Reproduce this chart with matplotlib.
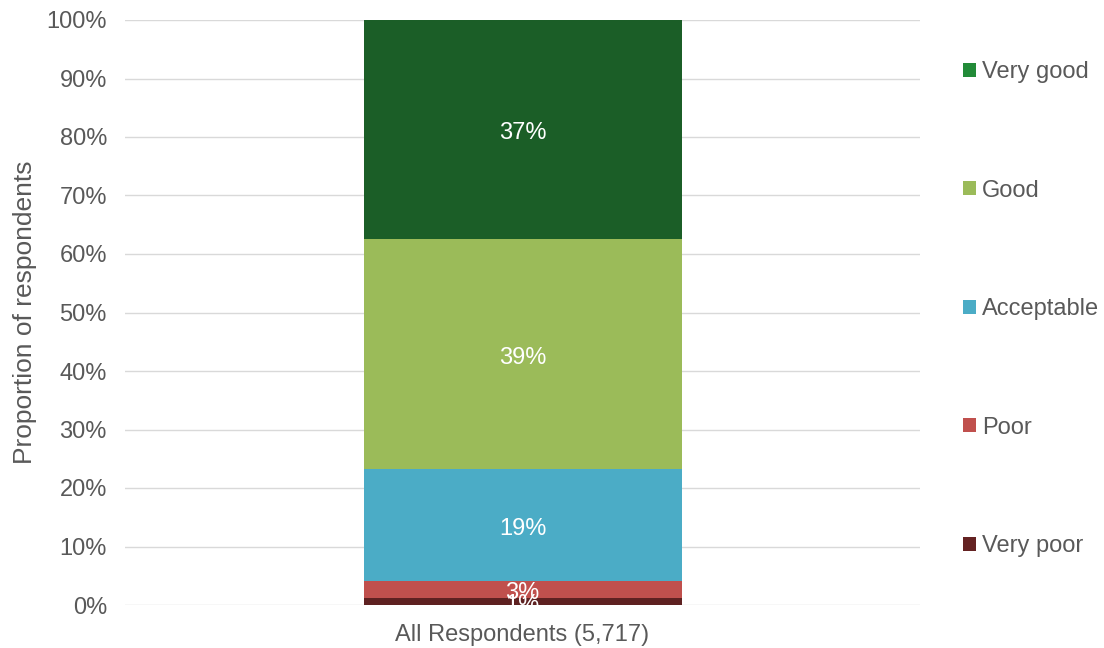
import matplotlib
matplotlib.use("Agg")
import matplotlib.pyplot as plt
from matplotlib.patches import Patch

plt.rcParams['font.family'] = ['Liberation Sans', 'DejaVu Sans']

category = "All Respondents (5,717)"
ratings = ["Very poor", "Poor", "Acceptable", "Good", "Very good"]
shares = [1.2, 2.9, 19.1, 39.4, 37.4]
bar_colors = ["#5E2121", "#C0504D", "#4BACC6", "#9BBB59", "#1B5E27"]
legend_colors = ["#642222", "#C0504D", "#4BACC6", "#9BBB59", "#228B38"]
yticks = list(range(0, 101, 10))

fig = plt.figure(figsize=(11.04, 6.48), dpi=100)
ax = fig.add_axes([125/1104, 43/648, 795/1104, 585/648])

bottom = 0.0
for name, val, col in zip(ratings, shares, bar_colors):
    ax.bar(0, val, width=0.8, bottom=bottom, color=col, zorder=3)
    ax.annotate(f"{val:.0f}%", (0, bottom + val / 2), xytext=(0, -2.5),
                textcoords="offset points", ha="center", va="center",
                color="white", fontsize=17, zorder=4)
    bottom += val

ax.set_xlim(-1, 1)
ax.set_ylim(0, 100)
ax.set_yticks(yticks)
ax.set_yticklabels([f"{t}%" for t in yticks])
ax.set_xticks([0])
ax.set_xticklabels([category])
ax.tick_params(axis="both", length=0, labelsize=17, colors="#595959")
ax.tick_params(axis="x", pad=14)
ax.tick_params(axis="y", pad=13)
ax.grid(axis="y", color="#D9D9D9", linewidth=1, zorder=0)
for s in ax.spines.values():
    s.set_visible(False)
ax.set_ylabel("Proportion of respondents", fontsize=19, color="#595959", labelpad=7)

handles = [Patch(facecolor=c, edgecolor="none") for c in legend_colors[::-1]]
leg = fig.legend(handles, ratings[::-1], loc="upper left",
                 bbox_to_anchor=(963/1104, 1 - 61/648), frameon=False,
                 fontsize=17, labelspacing=4.09, handlelength=0.55,
                 handleheight=0.55, handletextpad=0.25, borderpad=0,
                 borderaxespad=0)
for t in leg.get_texts():
    t.set_color("#595959")

fig.savefig("out.png", dpi=100)
